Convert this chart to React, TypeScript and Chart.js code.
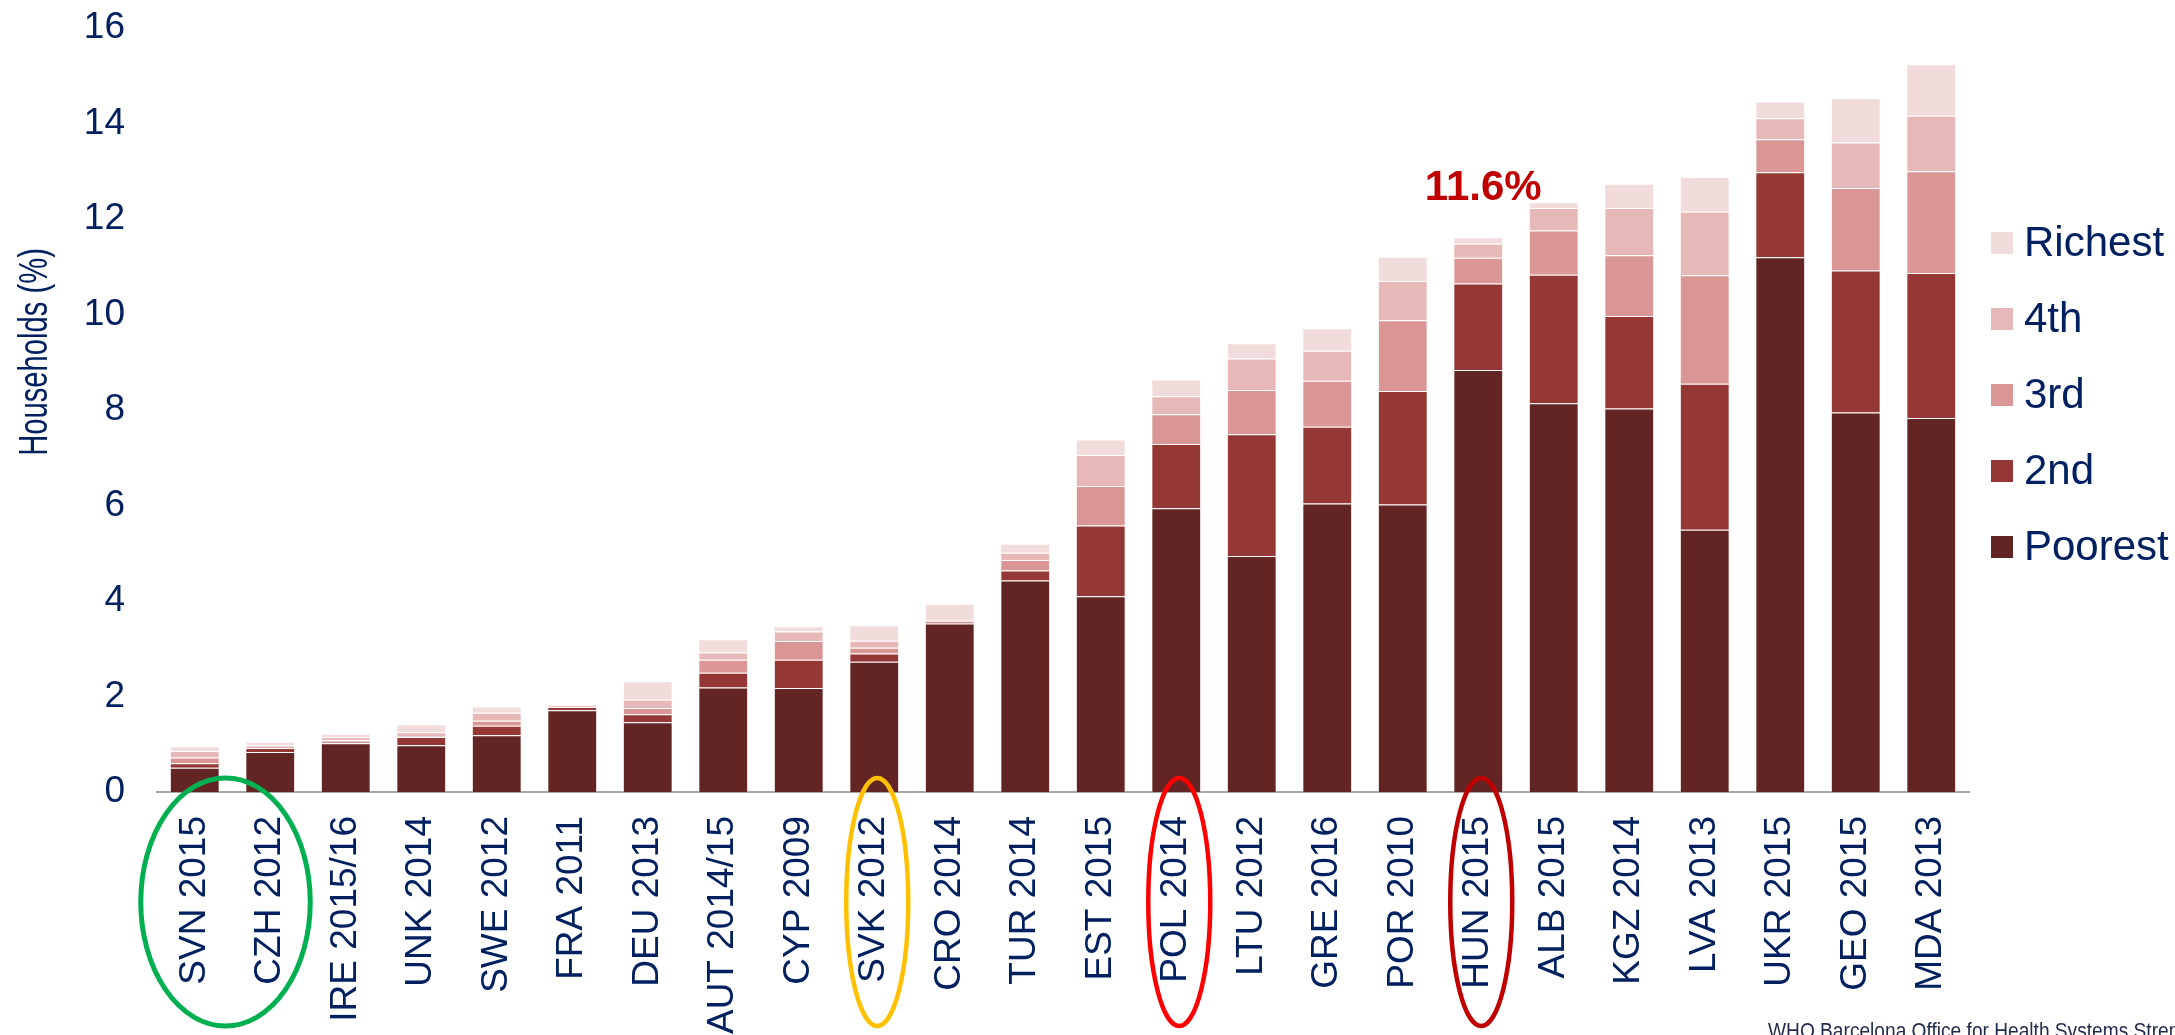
import React, { useEffect, useRef } from 'react';
import { Chart, registerables } from 'chart.js';

Chart.register(...registerables);

const categories = [
  'SVN 2015', 'CZH 2012', 'IRE 2015/16', 'UNK 2014', 'SWE 2012', 'FRA 2011', 'DEU 2013',
  'AUT 2014/15', 'CYP 2009', 'SVK 2012', 'CRO 2014', 'TUR 2014', 'EST 2015', 'POL 2014',
  'LTU 2012', 'GRE 2016', 'POR 2010', 'HUN 2015', 'ALB 2015', 'KGZ 2014', 'LVA 2013',
  'UKR 2015', 'GEO 2015', 'MDA 2013',
];

const poorest = [0.51, 0.84, 1.02, 0.98, 1.19, 1.71, 1.46, 2.19, 2.18, 2.73, 3.53, 4.43, 4.10, 5.94, 4.94, 6.04, 6.02, 8.84, 8.14, 8.03, 5.49, 11.20, 7.95, 7.83];
const second = [0.09, 0.08, 0.03, 0.17, 0.20, 0.07, 0.17, 0.31, 0.59, 0.17, 0.04, 0.21, 1.48, 1.35, 2.55, 1.61, 2.38, 1.81, 2.69, 1.94, 3.06, 1.78, 2.97, 3.04];
const third = [0.12, 0.03, 0.04, 0.02, 0.10, 0.02, 0.13, 0.27, 0.39, 0.12, 0.03, 0.22, 0.83, 0.62, 0.93, 0.96, 1.48, 0.54, 0.93, 1.27, 2.27, 0.69, 1.73, 2.13];
const fourth = [0.14, 0.03, 0.06, 0.08, 0.17, 0.01, 0.17, 0.15, 0.20, 0.15, 0.02, 0.15, 0.65, 0.38, 0.66, 0.63, 0.82, 0.29, 0.47, 0.99, 1.33, 0.44, 0.95, 1.16];
const richest = [0.10, 0.07, 0.07, 0.17, 0.13, 0.02, 0.39, 0.28, 0.11, 0.32, 0.32, 0.19, 0.32, 0.35, 0.32, 0.47, 0.51, 0.14, 0.12, 0.51, 0.73, 0.35, 0.93, 1.08];

const seriesLabels = ['Poorest', '2nd', '3rd', '4th', 'Richest'];
const seriesColors = ['#632523', '#953735', '#D99694', '#E6B9B8', '#F2DCDB'];

const yMin = 0;
const yMax = 16;
const yStep = 2;

const yTitle = 'Households (%)';
const highlightIndex = 17;
const highlightLabel = '11.6%';
const footerText = 'WHO Barcelona Office for Health Systems Strengthening';

const circledGroups = [
  { from: 0, to: 1, color: '#00B050' },
  { from: 9, to: 9, color: '#FFC000' },
  { from: 13, to: 13, color: '#FF0000' },
  { from: 17, to: 17, color: '#C00000' },
];

const NAVY = '#002060';
const FONT = '"Liberation Sans", Arial, Helvetica, sans-serif';

const overlayPlugin = {
  id: 'overlay',
  afterDraw(chart: any) {
    const { ctx, scales, chartArea } = chart;
    const x = scales.x;
    const y = scales.y;

    // y-axis title (condensed)
    ctx.save();
    ctx.fillStyle = NAVY;
    ctx.font = `40px ${FONT}`;
    ctx.textAlign = 'center';
    ctx.textBaseline = 'alphabetic';
    ctx.translate(47, 352);
    ctx.rotate(-Math.PI / 2);
    ctx.scale(0.73, 1);
    ctx.fillText(yTitle, 0, 0);
    ctx.restore();

    // highlight label
    const total =
      poorest[highlightIndex] + second[highlightIndex] + third[highlightIndex] +
      fourth[highlightIndex] + richest[highlightIndex];
    ctx.save();
    ctx.fillStyle = '#C00000';
    ctx.font = `bold 42px ${FONT}`;
    ctx.textAlign = 'center';
    ctx.textBaseline = 'alphabetic';
    ctx.fillText(highlightLabel, x.getPixelForValue(highlightIndex) + 5, y.getPixelForValue(total) - 37);
    ctx.restore();

    // ellipses around labels
    circledGroups.forEach((g) => {
      const x1 = x.getPixelForValue(g.from);
      const x2 = x.getPixelForValue(g.to);
      const cx = (x1 + x2) / 2 - (g.from !== g.to ? 7 : -3);
      const rx = (x2 - x1) / 2 + (g.from !== g.to ? 47 : 31);
      const cy = chartArea.bottom + 110;
      const ry = 124;
      ctx.save();
      ctx.strokeStyle = g.color;
      ctx.lineWidth = g.from !== g.to ? 5 : 4.5;
      ctx.beginPath();
      ctx.ellipse(cx, cy, rx, ry, 0, 0, Math.PI * 2);
      ctx.stroke();
      ctx.restore();
    });

    // legend (top: Richest ... bottom: Poorest)
    ctx.save();
    ctx.font = `42px ${FONT}`;
    ctx.textAlign = 'left';
    ctx.textBaseline = 'middle';
    const order = [4, 3, 2, 1, 0];
    order.forEach((di, row) => {
      const ds = chart.data.datasets[di];
      const cy = 243 + row * 76;
      ctx.fillStyle = ds.backgroundColor;
      ctx.fillRect(1991, cy - 11, 22, 22);
      ctx.fillStyle = NAVY;
      ctx.fillText(ds.label, 2024, cy + 1);
    });
    ctx.restore();

    // footer source text
    ctx.save();
    ctx.fillStyle = '#1e2b4a';
    ctx.font = `22px ${FONT}`;
    ctx.textAlign = 'left';
    ctx.textBaseline = 'alphabetic';
    ctx.translate(1768, 1038);
    ctx.scale(0.87, 1);
    ctx.fillText(footerText, 0, 0);
    ctx.restore();
  },
};

export default function App() {
  const canvasRef = useRef<HTMLCanvasElement | null>(null);

  useEffect(() => {
    document.body.style.margin = '0';
    const canvas = canvasRef.current;
    if (!canvas) return;
    const seriesData = [poorest, second, third, fourth, richest];
    const chart = new Chart(canvas, {
      type: 'bar',
      data: {
        labels: categories,
        datasets: seriesData.map((d, i) => ({
          label: seriesLabels[i],
          data: d,
          backgroundColor: seriesColors[i],
          borderColor: 'rgba(255,255,255,0.45)',
          borderWidth: 1,
          categoryPercentage: 1,
          barPercentage: 0.66,
        })),
      },
      options: {
        animation: false,
        responsive: true,
        maintainAspectRatio: false,
        devicePixelRatio: 1,
        layout: { padding: { top: 28, right: 206, left: 0, bottom: 0 } },
        plugins: {
          legend: { display: false },
          tooltip: { enabled: false },
          title: { display: false },
        },
        scales: {
          x: {
            stacked: true,
            offset: true,
            grid: { display: false, drawTicks: false },
            border: { display: true, color: '#a6a6a6', width: 2 },
            ticks: {
              autoSkip: false,
              minRotation: 90,
              maxRotation: 90,
              padding: 24,
              color: NAVY,
              font: { family: FONT, size: 37 },
            },
            afterFit: (scale: any) => {
              scale.height = 243;
            },
          },
          y: {
            stacked: true,
            min: yMin,
            max: yMax,
            grid: { display: false, drawTicks: false },
            border: { display: false },
            ticks: {
              stepSize: yStep,
              padding: 32,
              color: NAVY,
              font: { family: FONT, size: 37 },
            },
            afterFit: (scale: any) => {
              scale.width = 157;
              scale.paddingTop = 0;
              scale.paddingBottom = 0;
            },
          },
        },
      },
      plugins: [overlayPlugin],
    });
    return () => chart.destroy();
  }, []);

  return (
    <div style={{ position: 'fixed', left: 0, top: 0, width: 2175, height: 1035, background: '#fff' }}>
      <canvas ref={canvasRef} />
    </div>
  );
}
